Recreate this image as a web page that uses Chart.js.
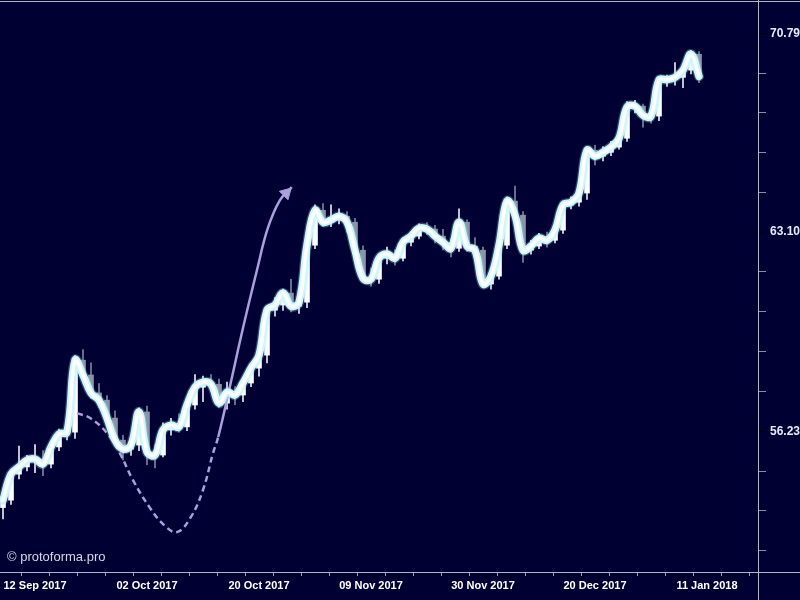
<!DOCTYPE html>
<html>
<head>
<meta charset="utf-8">
<script src="https://cdn.jsdelivr.net/npm/chart.js@4.4.0/dist/chart.umd.min.js"></script>
<style>
  body { margin: 0; background: #000033; }
  canvas { display: block; }
</style>
</head>
<body>
<canvas id="priceChart" width="800" height="600"></canvas>
<script>
// daily candles, index 0 = 06 Sep 2017 (trading days only)
const opens = [53.80, 54.03, 54.85, 55.08, 55.30, 55.33, 55.17, 55.72, 56.14, 56.20,
  58.59, 58.09, 57.49, 57.25, 56.66, 55.94, 55.65, 55.78, 56.86, 55.56,
  55.46, 56.27, 56.43, 56.37, 57.09, 57.68, 57.85, 57.78, 57.15, 57.52,
  57.42, 57.82, 58.32, 58.76, 60.31, 60.49, 60.91, 60.45, 60.59, 62.62,
  63.90, 63.46, 63.54, 63.68, 63.46, 62.44, 61.44, 61.40, 62.15, 62.30,
  62.15, 62.73, 62.95, 63.24, 63.21, 62.95, 62.73, 62.51, 63.46, 62.59,
  62.44, 61.23, 61.51, 62.62, 64.24, 63.72, 62.44, 62.59, 62.88, 62.80,
  63.17, 64.09, 64.20, 64.54, 66.16, 65.93, 66.08, 66.28, 66.62, 67.83,
  67.87, 67.51, 67.48, 68.90, 68.92, 69.01, 69.30, 69.94];
const highs = [54.20, 55.00, 55.75, 55.45, 55.80, 55.60, 55.90, 56.30, 56.45, 58.75,
  58.95, 58.50, 57.80, 57.40, 56.90, 56.10, 56.00, 57.00, 57.05, 55.80,
  56.50, 56.65, 56.80, 57.25, 58.10, 58.05, 58.10, 57.95, 57.85, 57.70,
  58.00, 58.45, 58.95, 60.45, 60.75, 61.05, 61.40, 60.80, 62.85, 64.10,
  64.15, 64.10, 63.95, 63.85, 63.60, 62.60, 61.80, 62.30, 62.55, 62.45,
  62.90, 63.10, 63.40, 63.45, 63.35, 63.20, 62.85, 63.95, 63.55, 62.90,
  62.55, 61.75, 62.75, 64.40, 64.80, 63.85, 62.80, 63.05, 63.10, 63.30,
  64.25, 64.40, 64.80, 66.30, 66.35, 66.30, 66.50, 66.95, 68.05, 68.10,
  67.95, 67.75, 69.05, 69.10, 69.60, 69.50, 70.10, 70.05];
const lows = [53.45, 53.90, 54.70, 54.95, 54.90, 54.80, 55.05, 55.60, 55.95, 56.00,
  57.90, 57.30, 57.00, 56.40, 55.75, 55.30, 55.45, 55.60, 55.15, 55.05,
  55.40, 56.10, 56.20, 56.25, 56.95, 57.20, 57.55, 57.00, 56.95, 57.10,
  57.20, 57.70, 58.05, 58.50, 60.10, 60.30, 60.25, 60.20, 60.40, 62.50,
  63.30, 63.30, 63.40, 63.10, 62.30, 61.30, 61.15, 61.25, 61.95, 61.90,
  62.05, 62.60, 62.85, 63.00, 62.70, 62.45, 62.20, 62.40, 62.40, 62.20,
  61.10, 61.05, 61.40, 62.50, 63.55, 62.00, 62.30, 62.50, 62.55, 62.70,
  63.05, 63.95, 64.05, 64.30, 65.60, 65.75, 65.95, 66.20, 66.50, 67.60,
  67.05, 67.20, 67.30, 68.65, 68.70, 68.60, 69.15, 68.80];
const closes = [54.03, 54.85, 55.08, 55.30, 55.33, 55.17, 55.72, 56.14, 56.20, 58.59,
  58.09, 57.49, 57.25, 56.66, 55.94, 55.65, 55.78, 56.86, 55.56, 55.46,
  56.27, 56.43, 56.37, 57.09, 57.68, 57.85, 57.78, 57.15, 57.52, 57.42,
  57.82, 58.32, 58.76, 60.31, 60.49, 60.91, 60.45, 60.59, 62.62, 63.90,
  63.46, 63.54, 63.68, 63.46, 62.44, 61.44, 61.40, 62.15, 62.30, 62.15,
  62.73, 62.95, 63.24, 63.21, 62.95, 62.73, 62.51, 63.46, 62.59, 62.44,
  61.23, 61.51, 62.62, 64.24, 63.72, 62.44, 62.59, 62.88, 62.80, 63.17,
  64.09, 64.20, 64.54, 66.16, 65.93, 66.08, 66.28, 66.62, 67.83, 67.87,
  67.51, 67.48, 68.90, 68.92, 69.01, 69.30, 69.94, 69.05];

// bottom axis: labelled trading days
const dateLabels = ['12 Sep 2017', '02 Oct 2017', '20 Oct 2017', '09 Nov 2017', '30 Nov 2017', '20 Dec 2017', '11 Jan 2018'];
const dateIndex = [4, 18, 32, 46, 60, 74, 88];

// right axis (log scale)
const priceLabels = ['56.23', '63.10', '70.79'];
const priceTicks = [52.48, 53.70, 54.95, 56.23, 57.54, 58.88, 60.26, 61.66, 63.10, 64.57, 66.07, 67.61, 69.18, 70.79];

// drawn forecast path: dashed up to pathDashEnd, then solid arrow
const pathX = [9.25, 10.9, 13, 14.6, 16.25, 18.4, 20.25, 21.75, 23.4, 25, 26.25, 26.9, 28.4, 30, 31.75, 33.1, 34.6, 36.1];
const pathY = [56.82, 56.66, 56.17, 55.52, 54.66, 53.78, 53.23, 53.04, 53.47, 54.35, 55.52, 56.04, 57.75, 59.69, 61.73, 63.24, 64.27, 64.76];
const pathDashEnd = 11;
const arrowHead = { x: 35.4, y: 64.54 };

const upDay = closes.map((c, i) => c >= opens[i]);
const lavender = '#ab9fdc';

// minor ticks every quarter of a label step
const xTicks = [];
for (let v = 0.5; v < 94; v += 3.5) xTicks.push(v);

const isLabelled = v => priceLabels.some(p => Math.abs(parseFloat(p) - v) < 0.01);

const frame = {
  id: 'frame',
  beforeDraw(chart) {
    const ctx = chart.ctx;
    ctx.save();
    ctx.fillStyle = '#000033';
    ctx.fillRect(0, 0, chart.width, chart.height);
    ctx.restore();
  },
  afterDraw(chart) {
    const { ctx, chartArea: a } = chart;
    ctx.save();
    ctx.strokeStyle = '#b4b4c6';
    ctx.lineWidth = 1;
    ctx.beginPath();
    ctx.moveTo(0, 1.5); ctx.lineTo(chart.width, 1.5);
    ctx.moveTo(0, a.bottom + 0.5); ctx.lineTo(chart.width, a.bottom + 0.5);
    ctx.moveTo(a.right + 0.5, 0); ctx.lineTo(a.right + 0.5, chart.height);
    ctx.stroke();
    ctx.fillStyle = '#d6d6e4';
    ctx.font = '13px "Liberation Sans", Arial, sans-serif';
    ctx.fillText('\u00a9 protoforma.pro', a.left + 7, a.bottom - 11);
    ctx.restore();
  }
};

const closeLine = (color, width) => ({
  type: 'line',
  data: closes.map((c, i) => ({ x: i, y: c })),
  borderColor: color,
  borderWidth: width,
  tension: 0.4,
  pointRadius: 0,
  borderCapStyle: 'round',
  borderJoinStyle: 'round'
});

new Chart(document.getElementById('priceChart'), {
  type: 'bar',
  data: {
    datasets: [
      { ...closeLine('#ffffff', 3.5), order: 0 },
      { ...closeLine('#cdf8f8', 7.5), order: 1 },
      { ...closeLine('rgba(160, 225, 235, 0.3)', 10), order: 2 },
      {
        type: 'line',
        data: pathX.map((x, i) => ({ x: x, y: pathY[i] })),
        borderColor: lavender,
        borderWidth: 2.5,
        tension: 0.4,
        pointRadius: 0,
        segment: {
          borderDash: ctx => ctx.p1DataIndex <= pathDashEnd ? [6, 4] : undefined
        },
        order: 3
      },
      {
        type: 'line',
        data: [arrowHead],
        showLine: false,
        pointStyle: 'triangle',
        pointRotation: 45,
        pointRadius: 7,
        backgroundColor: lavender,
        borderColor: lavender,
        borderWidth: 1,
        order: 3
      },
      {
        data: closes.map((c, i) => ({ x: i, y: [opens[i], c] })),
        backgroundColor: upDay.map(u => u ? '#ffffff' : '#8a94a8'),
        barThickness: 5,
        minBarLength: 1,
        grouped: false,
        order: 4
      },
      {
        data: closes.map((c, i) => ({ x: i, y: [lows[i], highs[i]] })),
        backgroundColor: upDay.map(u => u ? '#e6eaf2' : '#7a8598'),
        barThickness: 1,
        grouped: false,
        order: 5
      }
    ]
  },
  options: {
    responsive: false,
    animation: false,
    layout: { padding: 0, autoPadding: false },
    plugins: { legend: { display: false }, tooltip: { enabled: false } },
    scales: {
      x: {
        type: 'linear',
        offset: false,
        bounds: 'data',
        min: -0.375,
        max: 94.375,
        afterBuildTicks: s => { s.ticks = xTicks.map(v => ({ value: v })); },
        afterFit: s => { s.height = 28; s.paddingLeft = 0; s.paddingRight = 0; },
        ticks: {
          autoSkip: false,
          maxRotation: 0,
          padding: 3,
          color: '#ffffff',
          font: { family: '"Liberation Sans", sans-serif', size: 11, weight: 'bold' },
          callback: v => {
            const k = dateIndex.indexOf(v);
            return k >= 0 ? dateLabels[k] : '';
          }
        },
        grid: { drawOnChartArea: false, tickLength: 4, tickColor: '#9a9aae' },
        border: { display: false }
      },
      y: {
        type: 'logarithmic',
        position: 'right',
        bounds: 'data',
        min: 51.83,
        max: 72.17,
        afterBuildTicks: s => { s.ticks = priceTicks.map(v => ({ value: v })); },
        afterFit: s => { s.width = 42; s.paddingTop = 0; s.paddingBottom = 0; },
        ticks: {
          autoSkip: false,
          padding: 4,
          color: '#e4ecff',
          font: { family: '"Liberation Sans", sans-serif', size: 12, weight: 'bold' },
          callback: v => {
            const l = priceLabels.find(p => Math.abs(parseFloat(p) - v) < 0.01);
            return l || '';
          }
        },
        grid: {
          drawOnChartArea: false,
          tickLength: 8,
          tickColor: ctx => isLabelled(ctx.tick.value) ? '#000000' : '#8c8ca4'
        },
        border: { display: false }
      }
    }
  },
  plugins: [frame]
});
</script>
</body>
</html>
